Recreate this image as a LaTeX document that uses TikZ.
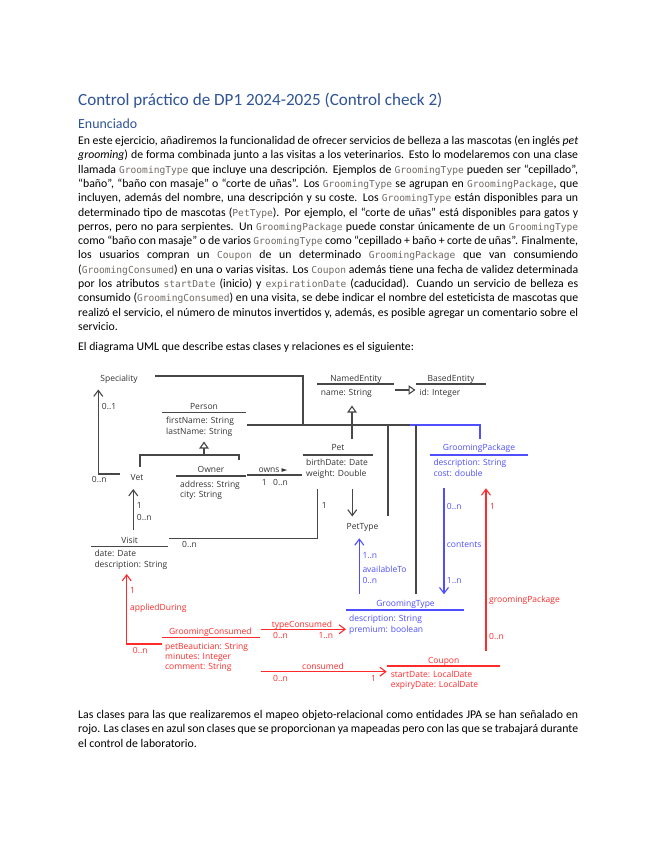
\documentclass[tikz,border=0pt]{standalone}
\usepackage{fontspec}
\setmainfont{Carlito}
\newfontfamily\umlfont{Open Sans}
\newfontfamily\codefont{DejaVu Sans Mono}
\newfontfamily\symfont{DejaVu Sans}
\usetikzlibrary{arrows.meta}
\definecolor{headblue}{HTML}{2F5496}
\definecolor{codegray}{HTML}{6F6A66}
\definecolor{umlgray}{HTML}{474747}
\definecolor{umltext}{HTML}{333333}
\definecolor{umlred}{HTML}{FF2A2A}
\definecolor{umlblue}{HTML}{4F4FFF}
\newcommand{\code}[1]{{\codefont\fontsize{9.6}{12}\selectfont\color{codegray}#1}}
\newcommand{\jline}[1]{\makebox[500pt][s]{#1}}
\tikzset{
  bodytxt/.style={anchor=base west, inner sep=0pt, font=\fontsize{11.77}{14}\selectfont},
  lbl/.style={inner sep=0pt, font=\umlfont\fontsize{8.5}{10}\selectfont, text=umltext},
  cls/.style={lbl, anchor=base},
  attr/.style={lbl, anchor=base west},
  red/.style={text=umlred},
  blue/.style={text=umlblue},
  gline/.style={draw=umlgray, line width=1.1pt},
  rline/.style={draw=umlred, line width=1.1pt},
  bline/.style={draw=umlblue, line width=1.1pt},
  varrow/.style={-{Straight Barb[length=6pt,width=9pt]}},
  inh/.style={-{Triangle[open,length=7pt,width=9.5pt,fill=white]}},
}
\begin{document}
\begin{tikzpicture}[x=1pt,y=-1pt]
\useasboundingbox[fill=white] (0,0) rectangle (655,848);

% ---------- headings ----------
\node[bodytxt, text=headblue, font=\fontsize{17.1}{20}\selectfont] (title) at (78,106) {Control práctico de DP1 2024-2025 (Control check 2)};
\node[bodytxt, text=headblue, font=\fontsize{13.9}{16}\selectfont] (enun) at (78,128.5) {Enunciado};

% ---------- body ----------
\node[bodytxt] (l1) at (78,144.5) {\jline{En este ejercicio, añadiremos la funcionalidad de ofrecer servicios de belleza a las mascotas (en inglés \textit{pet}}};
\node[bodytxt] (l2) at (78,158.8) {\jline{\textit{grooming}) de forma combinada junto a las visitas a los veterinarios. Esto lo modelaremos con una clase}};
\node[bodytxt] (l3) at (78,173.1) {\jline{llamada \code{GroomingType} que incluye una descripción. Ejemplos de \code{GroomingType} pueden ser “cepillado”,}};
\node[bodytxt] (l4) at (78,187.4) {\jline{“baño”, “baño con masaje” o “corte de uñas”. Los \code{GroomingType} se agrupan en \code{GroomingPackage}, que}};
\node[bodytxt] (l5) at (78,201.7) {\jline{incluyen, además del nombre, una descripción y su coste. Los \code{GroomingType} están disponibles para un}};
\node[bodytxt] (l6) at (78,216.0) {\jline{determinado tipo de mascotas (\code{PetType}). Por ejemplo, el “corte de uñas” está disponibles para gatos y}};
\node[bodytxt] (l7) at (78,230.3) {\jline{perros, pero no para serpientes. Un \code{GroomingPackage} puede constar únicamente de un \code{GroomingType}}};
\node[bodytxt] (l8) at (78,244.6) {\jline{como “baño con masaje” o de varios \code{GroomingType} como “cepillado + baño + corte de uñas”. Finalmente,}};
\node[bodytxt] (l9) at (78,258.9) {\jline{los usuarios compran un \code{Coupon} de un determinado \code{GroomingPackage} que van consumiendo}};
\node[bodytxt] (l10) at (78,273.2) {\jline{(\code{GroomingConsumed}) en una o varias visitas. Los \code{Coupon} además tiene una fecha de validez determinada}};
\node[bodytxt] (l11) at (78,287.5) {\jline{por los atributos \code{startDate} (inicio) y \code{expirationDate} (caducidad). Cuando un servicio de belleza es}};
\node[bodytxt] (l12) at (78,301.8) {\jline{consumido (\code{GroomingConsumed}) en una visita, se debe indicar el nombre del esteticista de mascotas que}};
\node[bodytxt] (l13) at (78,316.1) {\jline{realizó el servicio, el número de minutos invertidos y, además, es posible agregar un comentario sobre el}};
\node[bodytxt] (l14) at (78,330.4) {servicio.};
\node[bodytxt] (l15) at (78,350.5) {El diagrama UML que describe estas clases y relaciones es el siguiente:};

\node[bodytxt] (b1) at (78,718.5) {\jline{Las clases para las que realizaremos el mapeo objeto-relacional como entidades JPA se han señalado en}};
\node[bodytxt] (b2) at (78,732.8) {\jline{rojo. Las clases en azul son clases que se proporcionan ya mapeadas pero con las que se trabajará durante}};
\node[bodytxt] (b3) at (78,747.1) {el control de laboratorio.};

% ---------- classes ----------
\node[cls] (spec) at (119,381) {Speciality};

\node[cls] (person) at (204,409) {Person};
\draw[gline] (161.7,412.3) -- (246,412.3);
\node[attr] (personA1) at (166,423.7) {firstName: String};
\node[attr] (personA2) at (166,434) {lastName: String};

\node[cls] (vet) at (137,480.5) {Vet};

\node[cls] (owner) at (211,472.3) {Owner};
\draw[gline] (175.7,476) -- (246,476);
\node[attr] (ownerA1) at (180,487) {address: String};
\node[attr] (ownerA2) at (180,497) {city: String};

\node[cls] (pet) at (338,450.7) {Pet};
\draw[gline] (302.5,455) -- (373,455);
\node[attr] (petA1) at (306,465.7) {birthDate: Date};
\node[attr] (petA2) at (306,476.3) {weight: Double};

\node[cls] (pettype) at (362.5,529) {PetType};

\node[cls] (named) at (356,381.3) {NamedEntity};
\draw[gline] (317.3,384) -- (394,384);
\node[attr] (namedA1) at (320.7,395.3) {name: String};

\node[cls] (based) at (451,381.3) {BasedEntity};
\draw[gline] (415.7,384) -- (485.7,384);
\node[attr] (basedA1) at (419.3,395.3) {id: Integer};

\node[cls] (visit) at (129.7,543) {Visit};
\draw[gline] (91,546.7) -- (167.7,546.7);
\node[attr] (visitA1) at (94.3,556.3) {date: Date};
\node[attr] (visitA2) at (94.3,567.3) {description: String};

\node[cls, blue] (gpack) at (479,450.7) {GroomingPackage};
\draw[bline] (430,455) -- (528.3,455);
\node[attr, blue] (gpackA1) at (433.3,465.7) {description: String};
\node[attr, blue] (gpackA2) at (433.3,476.3) {cost: double};

\node[cls, blue] (gtype) at (405.5,606.3) {GroomingType};
\draw[bline] (345.7,610) -- (464.3,610);
\node[attr, blue] (gtypeA1) at (349,621.3) {description: String};
\node[attr, blue] (gtypeA2) at (349,632) {premium: boolean};

\node[cls, red] (gcons) at (210.3,634.7) {GroomingConsumed};
\draw[rline] (161.7,637.7) -- (260,637.7);
\node[attr, red] (gconsA1) at (165,649) {petBeautician: String};
\node[attr, red] (gconsA2) at (165,659.7) {minutes: Integer};
\node[attr, red] (gconsA3) at (165,669.7) {comment: String};

\node[cls, red] (coupon) at (443.7,663) {Coupon};
\draw[rline] (387.3,666) -- (500,666);
\node[attr, red] (couponA1) at (390.7,677) {startDate: LocalDate};
\node[attr, red] (couponA2) at (390.7,687.3) {expiryDate: LocalDate};

% ---------- coordinates ----------
\coordinate (specR) at (155,376);
\coordinate (specBus) at (303,425);
\coordinate (personR) at (247,425);
\coordinate (busSplit) at (410,425);
\coordinate (gpackTop) at (480,439);
\coordinate (busPT) at (388,425);
\coordinate (ptTop) at (388,516);
\coordinate (busGT) at (416,425);
\coordinate (gtTop) at (416,594);
\coordinate (petTop) at (352,439);
\coordinate (namedBot) at (352,405.5);
\coordinate (namedR) at (395,390);
\coordinate (basedL) at (415.5,390);
\coordinate (personTri) at (204,441.5);
\coordinate (inhJ) at (204,455);
\coordinate (vetTop) at (140,467);
\coordinate (ownerTop) at (239,460);
\coordinate (vetL) at (120,474);
\coordinate (specB) at (98.3,389.5);
\coordinate (visitTop) at (133.3,530);
\coordinate (vetB) at (133.3,489);
\coordinate (visitR) at (169.3,538.3);
\coordinate (petB) at (317.7,489);
\coordinate (ownerR) at (247.3,475);
\coordinate (petL) at (301.7,475);
\coordinate (petB2) at (352.3,489);
\coordinate (ptT) at (352.3,516.5);
\coordinate (gpB) at (444,488.3);
\coordinate (gtT) at (444,594.3);
\coordinate (gtT2) at (359.3,594.3);
\coordinate (ptB) at (359.3,538.3);
\coordinate (couponT) at (486,650.7);
\coordinate (gpB2) at (486,488.3);
\coordinate (gcL) at (161.7,644);
\coordinate (visitB) at (126.7,574);
\coordinate (gcR) at (260.7,629.3);
\coordinate (gtL) at (346,629.3);
\coordinate (gcR2) at (260.7,671.7);
\coordinate (couponL) at (386.7,671.7);

% ---------- gray connectors ----------
\draw[gline] (specR) -| (specBus);
\draw[gline] (personR) -- (busSplit);
\draw[bline] (busSplit) -| (gpackTop);
\draw[gline] (busPT) -- (ptTop);
\draw[gline] (busGT) -- (gtTop);
\draw[gline, inh] (petTop) -- (namedBot);
\draw[gline, inh] (namedR) -- (basedL);
\draw[gline] (vetTop) -- (vetTop |- inhJ) -- (ownerTop |- inhJ) -- (ownerTop);
\draw[gline, inh] (inhJ) -- (personTri);
\draw[gline, varrow] (vetL) -| (specB);
\draw[gline, varrow] (visitTop) -- (vetB);
\draw[gline] (visitR) -| (petB);
\draw[gline] (ownerR) -- (petL);
\draw[gline, varrow] (petB2) -- (ptT);

% ---------- blue connectors ----------
\draw[bline, varrow] (gpB) -- (gtT);
\draw[bline, varrow] (gtT2) -- (ptB);

% ---------- red connectors ----------
\draw[rline, varrow] (couponT) -- (gpB2);
\draw[rline, varrow] (gcL) -| (visitB);
\draw[rline, varrow] (gcR) -- (gtL);
\draw[rline, varrow] (gcR2) -- (couponL);

% ---------- connector labels ----------
\node[attr] (m1) at (101.7,409.7) {0..1};
\node[attr] (m2) at (91.7,482) {0..n};
\node[attr] (m3) at (136.7,508) {1};
\node[attr] (m4) at (136.7,520.3) {0..n};
\node[cls] (owns) at (273,472) {owns {\symfont\fontsize{7.5}{8}\selectfont ►}};
\node[attr] (m5) at (261.7,485.7) {1};
\node[attr] (m6) at (273,485.7) {0..n};
\node[attr] (m7) at (321.7,508.7) {1};
\node[attr] (m8) at (182,547) {0..n};

\node[attr, blue] (m9) at (446.7,509) {0..n};
\node[attr, blue] (contents) at (446.7,547.3) {contents};
\node[attr, blue] (m10) at (446.7,583) {1..n};
\node[attr, blue] (m11) at (362.3,558) {1..n};
\node[attr, blue] (avail) at (362.3,572) {availableTo};
\node[attr, blue] (m12) at (362.3,583.3) {0..n};

\node[attr, red] (m13) at (490,509) {1};
\node[attr, red] (gpl) at (489,602) {groomingPackage};
\node[attr, red] (m14) at (489,639) {0..n};
\node[attr, red] (m15) at (130,593) {1};
\node[attr, red] (applied) at (130,610.3) {appliedDuring};
\node[attr, red] (m16) at (132.7,653.7) {0..n};
\node[cls, red] (typecons) at (302,627.3) {typeConsumed};
\node[attr, red] (m17) at (273,638.7) {0..n};
\node[attr, red] (m18) at (318.3,638.7) {1..n};
\node[cls, red] (consumed) at (323,669) {consumed};
\node[attr, red] (m19) at (273,681.3) {0..n};
\node[attr, red] (m20) at (371,681.3) {1};
\end{tikzpicture}
\end{document}
